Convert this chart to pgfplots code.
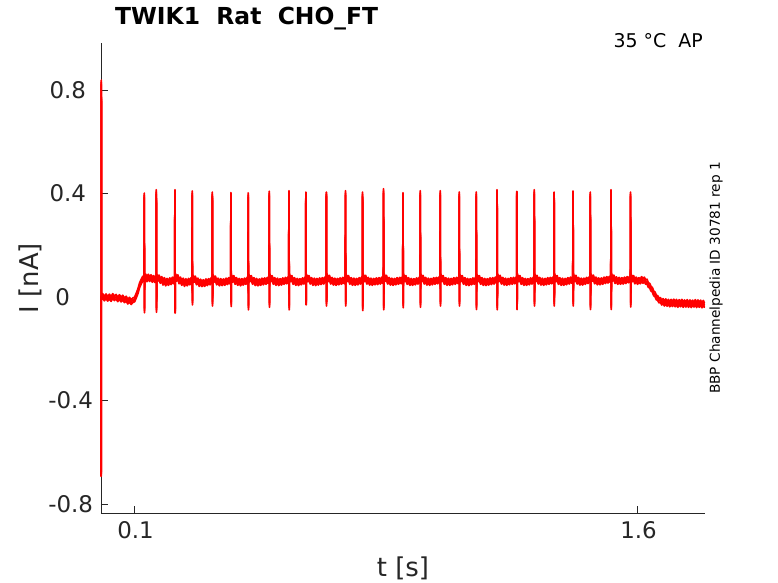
\documentclass[border=0pt]{standalone}
\usepackage{pgfplots}
\pgfplotsset{compat=1.18}
\usepackage{pgfplotstable}
\usepackage{fontspec}
\setmainfont{DejaVu Sans}
\definecolor{axgray}{HTML}{262626}
\definecolor{trace}{HTML}{FF0000}
\pgfplotstableread{
t I
0.0000 -0.005
0.0004 -0.685
0.0010 0.830
0.0016 0.000
0.005 0.004
0.010 -0.006
0.015 0.003
0.020 -0.007
0.025 0.002
0.030 -0.008
0.035 0.004
0.040 -0.005
0.045 0.001
0.050 -0.009
0.055 0.000
0.060 -0.010
0.065 -0.002
0.070 -0.013
0.075 -0.006
0.080 -0.018
0.085 -0.010
0.090 -0.020
0.095 -0.012
0.100 -0.010
0.105 0.005
0.110 0.022
0.115 0.045
0.120 0.060
0.125 0.072
0.1285 0.070
0.1290 0.393
0.1296 -0.052
0.1302 0.078
0.133 0.080
0.137 0.068
0.141 0.079
0.145 0.069
0.149 0.077
0.153 0.066
0.157 0.074
0.161 0.065
0.1645 0.070
0.1650 0.406
0.1656 -0.050
0.1662 0.080
0.169 0.070
0.173 0.076
0.177 0.062
0.181 0.070
0.185 0.055
0.189 0.066
0.193 0.052
0.197 0.063
0.201 0.054
0.205 0.065
0.209 0.057
0.213 0.068
0.217 0.060
0.2200 0.072
0.2205 0.406
0.2211 -0.054
0.2217 0.082
0.225 0.070
0.229 0.077
0.233 0.060
0.237 0.068
0.241 0.054
0.245 0.064
0.249 0.050
0.253 0.062
0.257 0.052
0.261 0.063
0.265 0.056
0.269 0.066
0.2715 0.068
0.2720 0.401
0.2726 -0.022
0.2732 0.078
0.277 0.066
0.281 0.072
0.285 0.056
0.289 0.064
0.293 0.050
0.297 0.060
0.301 0.049
0.305 0.058
0.309 0.050
0.313 0.061
0.317 0.053
0.321 0.062
0.325 0.056
0.329 0.066
0.3315 0.070
0.3320 0.397
0.3326 -0.026
0.3332 0.080
0.337 0.066
0.341 0.072
0.345 0.056
0.349 0.064
0.353 0.052
0.357 0.062
0.361 0.053
0.365 0.061
0.369 0.054
0.373 0.064
0.377 0.057
0.381 0.066
0.384 0.060
0.3870 0.070
0.3875 0.395
0.3881 -0.028
0.3887 0.078
0.392 0.066
0.396 0.074
0.400 0.058
0.404 0.066
0.408 0.054
0.412 0.063
0.416 0.052
0.420 0.062
0.424 0.055
0.428 0.064
0.432 0.058
0.436 0.067
0.4385 0.070
0.4390 0.394
0.4396 -0.041
0.4402 0.080
0.444 0.068
0.448 0.074
0.452 0.058
0.456 0.066
0.460 0.053
0.464 0.063
0.468 0.052
0.472 0.061
0.476 0.054
0.480 0.064
0.484 0.056
0.488 0.065
0.492 0.058
0.496 0.067
0.499 0.062
0.5012 0.072
0.5017 0.400
0.5023 -0.031
0.5029 0.082
0.506 0.068
0.510 0.074
0.514 0.058
0.518 0.066
0.522 0.054
0.526 0.064
0.530 0.053
0.534 0.062
0.538 0.055
0.542 0.065
0.546 0.058
0.550 0.067
0.554 0.060
0.558 0.069
0.5600 0.072
0.5605 0.402
0.5611 -0.041
0.5617 0.082
0.565 0.068
0.569 0.074
0.573 0.058
0.577 0.066
0.581 0.054
0.585 0.063
0.589 0.053
0.593 0.062
0.597 0.056
0.601 0.065
0.605 0.059
0.608 0.067
0.6105 0.070
0.6110 0.397
0.6116 -0.022
0.6122 0.080
0.616 0.068
0.620 0.074
0.624 0.059
0.628 0.066
0.632 0.054
0.636 0.064
0.640 0.053
0.644 0.063
0.648 0.055
0.652 0.065
0.656 0.057
0.660 0.066
0.664 0.059
0.668 0.068
0.6715 0.072
0.6720 0.397
0.6726 -0.026
0.6732 0.082
0.677 0.068
0.681 0.075
0.685 0.059
0.689 0.067
0.693 0.055
0.697 0.064
0.701 0.054
0.705 0.063
0.709 0.056
0.713 0.065
0.717 0.058
0.721 0.067
0.725 0.061
0.7285 0.072
0.7290 0.402
0.7296 -0.026
0.7302 0.082
0.734 0.068
0.738 0.074
0.742 0.058
0.746 0.066
0.750 0.054
0.754 0.064
0.758 0.054
0.762 0.063
0.766 0.056
0.770 0.066
0.774 0.059
0.777 0.068
0.7795 0.072
0.7800 0.397
0.7806 -0.044
0.7812 0.082
0.785 0.068
0.789 0.075
0.793 0.059
0.797 0.067
0.801 0.055
0.805 0.064
0.809 0.054
0.813 0.063
0.817 0.056
0.821 0.065
0.825 0.057
0.829 0.066
0.833 0.059
0.837 0.068
0.840 0.062
0.8420 0.073
0.8425 0.410
0.8431 -0.041
0.8437 0.084
0.847 0.069
0.851 0.075
0.855 0.059
0.859 0.067
0.863 0.055
0.867 0.064
0.871 0.054
0.875 0.063
0.879 0.056
0.883 0.066
0.887 0.058
0.891 0.067
0.895 0.060
0.898 0.068
0.9000 0.071
0.9005 0.394
0.9011 -0.033
0.9017 0.082
0.905 0.068
0.909 0.074
0.913 0.058
0.917 0.066
0.921 0.054
0.925 0.063
0.929 0.054
0.933 0.062
0.937 0.056
0.941 0.065
0.945 0.059
0.949 0.067
0.9515 0.071
0.9520 0.402
0.9526 -0.031
0.9532 0.082
0.956 0.068
0.960 0.075
0.964 0.059
0.968 0.067
0.972 0.055
0.976 0.064
0.980 0.054
0.984 0.063
0.988 0.056
0.992 0.066
0.996 0.058
1.000 0.067
1.004 0.060
1.008 0.068
1.0110 0.072
1.0115 0.402
1.0121 -0.026
1.0127 0.082
1.016 0.068
1.020 0.074
1.024 0.058
1.028 0.066
1.032 0.054
1.036 0.064
1.040 0.054
1.044 0.063
1.048 0.056
1.052 0.066
1.056 0.058
1.060 0.067
1.064 0.061
1.0677 0.071
1.0682 0.397
1.0688 -0.026
1.0694 0.080
1.073 0.068
1.077 0.074
1.081 0.058
1.085 0.066
1.089 0.054
1.093 0.063
1.097 0.053
1.101 0.062
1.105 0.056
1.109 0.065
1.113 0.058
1.116 0.066
1.1185 0.070
1.1190 0.397
1.1196 -0.040
1.1202 0.080
1.124 0.068
1.128 0.074
1.132 0.058
1.136 0.066
1.140 0.054
1.144 0.063
1.148 0.053
1.152 0.062
1.156 0.055
1.160 0.065
1.164 0.057
1.168 0.066
1.172 0.059
1.176 0.068
1.179 0.063
1.1805 0.072
1.1810 0.406
1.1816 -0.041
1.1822 0.082
1.186 0.068
1.190 0.075
1.194 0.059
1.198 0.067
1.202 0.055
1.206 0.064
1.210 0.054
1.214 0.063
1.218 0.056
1.222 0.066
1.226 0.058
1.230 0.067
1.234 0.060
1.238 0.068
1.2395 0.072
1.2400 0.400
1.2406 -0.040
1.2412 0.082
1.245 0.068
1.249 0.074
1.253 0.058
1.257 0.066
1.261 0.054
1.265 0.063
1.269 0.054
1.273 0.062
1.277 0.056
1.281 0.065
1.285 0.059
1.289 0.067
1.2915 0.071
1.2920 0.406
1.2926 -0.026
1.2932 0.082
1.296 0.068
1.300 0.075
1.304 0.059
1.308 0.067
1.312 0.055
1.316 0.064
1.320 0.054
1.324 0.063
1.328 0.056
1.332 0.066
1.336 0.058
1.340 0.067
1.344 0.060
1.348 0.068
1.3505 0.072
1.3510 0.397
1.3516 -0.026
1.3522 0.082
1.356 0.068
1.360 0.074
1.364 0.058
1.368 0.066
1.372 0.054
1.376 0.064
1.380 0.054
1.384 0.063
1.388 0.056
1.392 0.066
1.396 0.059
1.400 0.068
1.404 0.062
1.4070 0.072
1.4075 0.401
1.4081 -0.026
1.4087 0.082
1.412 0.068
1.416 0.075
1.420 0.059
1.424 0.067
1.428 0.055
1.432 0.064
1.436 0.055
1.440 0.064
1.444 0.058
1.448 0.067
1.452 0.061
1.456 0.069
1.4585 0.072
1.4590 0.397
1.4596 -0.040
1.4602 0.082
1.464 0.069
1.468 0.076
1.472 0.060
1.476 0.068
1.480 0.056
1.484 0.065
1.488 0.056
1.492 0.065
1.496 0.058
1.500 0.068
1.504 0.061
1.508 0.070
1.512 0.063
1.516 0.071
1.519 0.066
1.5203 0.074
1.5208 0.406
1.5214 -0.040
1.5220 0.084
1.525 0.070
1.529 0.076
1.533 0.061
1.537 0.069
1.541 0.058
1.545 0.067
1.549 0.058
1.553 0.066
1.557 0.059
1.561 0.068
1.565 0.061
1.569 0.070
1.573 0.064
1.577 0.071
1.5785 0.072
1.5790 0.397
1.5796 -0.030
1.5802 0.082
1.584 0.068
1.588 0.074
1.592 0.060
1.596 0.068
1.600 0.058
1.604 0.066
1.608 0.060
1.612 0.070
1.616 0.062
1.620 0.068
1.624 0.058
1.628 0.060
1.632 0.046
1.636 0.044
1.640 0.032
1.644 0.028
1.648 0.014
1.652 0.010
1.656 -0.002
1.660 -0.004
1.664 -0.014
1.668 -0.011
1.672 -0.022
1.676 -0.015
1.680 -0.026
1.684 -0.016
1.688 -0.027
1.692 -0.018
1.696 -0.029
1.700 -0.018
1.704 -0.028
1.708 -0.017
1.712 -0.029
1.716 -0.018
1.720 -0.031
1.724 -0.019
1.728 -0.029
1.732 -0.018
1.736 -0.031
1.740 -0.020
1.744 -0.030
1.748 -0.019
1.752 -0.031
1.756 -0.020
1.760 -0.032
1.764 -0.021
1.768 -0.030
1.772 -0.019
1.776 -0.032
1.780 -0.020
1.784 -0.031
1.788 -0.021
1.792 -0.033
1.796 -0.022
1.799 -0.031
}\trace
\begin{document}
\begin{tikzpicture}
\useasboundingbox (-101bp,-70bp) rectangle (677bp,513bp);
\begin{axis}[
  at={(0,0)}, anchor=south west,
  scale only axis,
  width=604bp, height=470bp,
  xmin=0, xmax=1.801,
  ymin=-0.835, ymax=0.982,
  axis lines*=left,
  axis line style={axgray, line width=0.6bp},
  tick style={axgray, line width=0.6bp},
  tick align=inside,
  major tick length=6.7bp,
  xtick={0.1,1.6}, xticklabels={0.1,1.6},
  ytick={-0.8,-0.4,0,0.4,0.8},
  yticklabels={-0.8,-0.4,{0\kern23bp},{0.4\kern7bp},{0.8\kern7bp}},
  minor tick num=0,
  /pgf/number format/assume math mode=true,
  ticklabel style={font=\fontsize{23}{27}\selectfont, text=axgray},
  xticklabel style={yshift=-5bp, xshift=1bp},
  yticklabel style={xshift=-4.5bp},
  xlabel={t [s]},
  ylabel={I [nA]},
  xlabel style={at={(rel axis cs:0.5,-0.117)}, anchor=center, font=\fontsize{26}{30}\selectfont, text=axgray},
  ylabel style={at={(rel axis cs:-0.1175,0.5)}, anchor=center, font=\fontsize{26}{30}\selectfont, text=axgray},
  clip=false,
]
\addplot[trace, line width=1.8bp, line join=round, line cap=round, yshift=-2.2bp] table[x=t, y=I] {\trace};
\addplot[trace, line width=1.8bp, line join=round, line cap=round, yshift=2.2bp] table[x=t, y=I] {\trace};
\addplot[trace, line width=1.8bp, line join=round, line cap=round] table[x=t, y=I] {\trace};
\node[anchor=west, font=\bfseries\fontsize{23.5}{28}\selectfont, inner sep=0pt] at (rel axis cs:0.0232,1.053) {TWIK1\ \ Rat\ \ CHO\_FT};
\node[anchor=east, font=\fontsize{19}{23}\selectfont, inner sep=0pt] at (rel axis cs:0.9967,1.006) {35 °C\ \ AP};
\node[rotate=90, anchor=center, font=\fontsize{13.7}{16}\selectfont, inner sep=0pt] at (rel axis cs:1.0182,0.5) {BBP Channelpedia ID 30781 rep 1};
\end{axis}
\end{tikzpicture}
\end{document}
